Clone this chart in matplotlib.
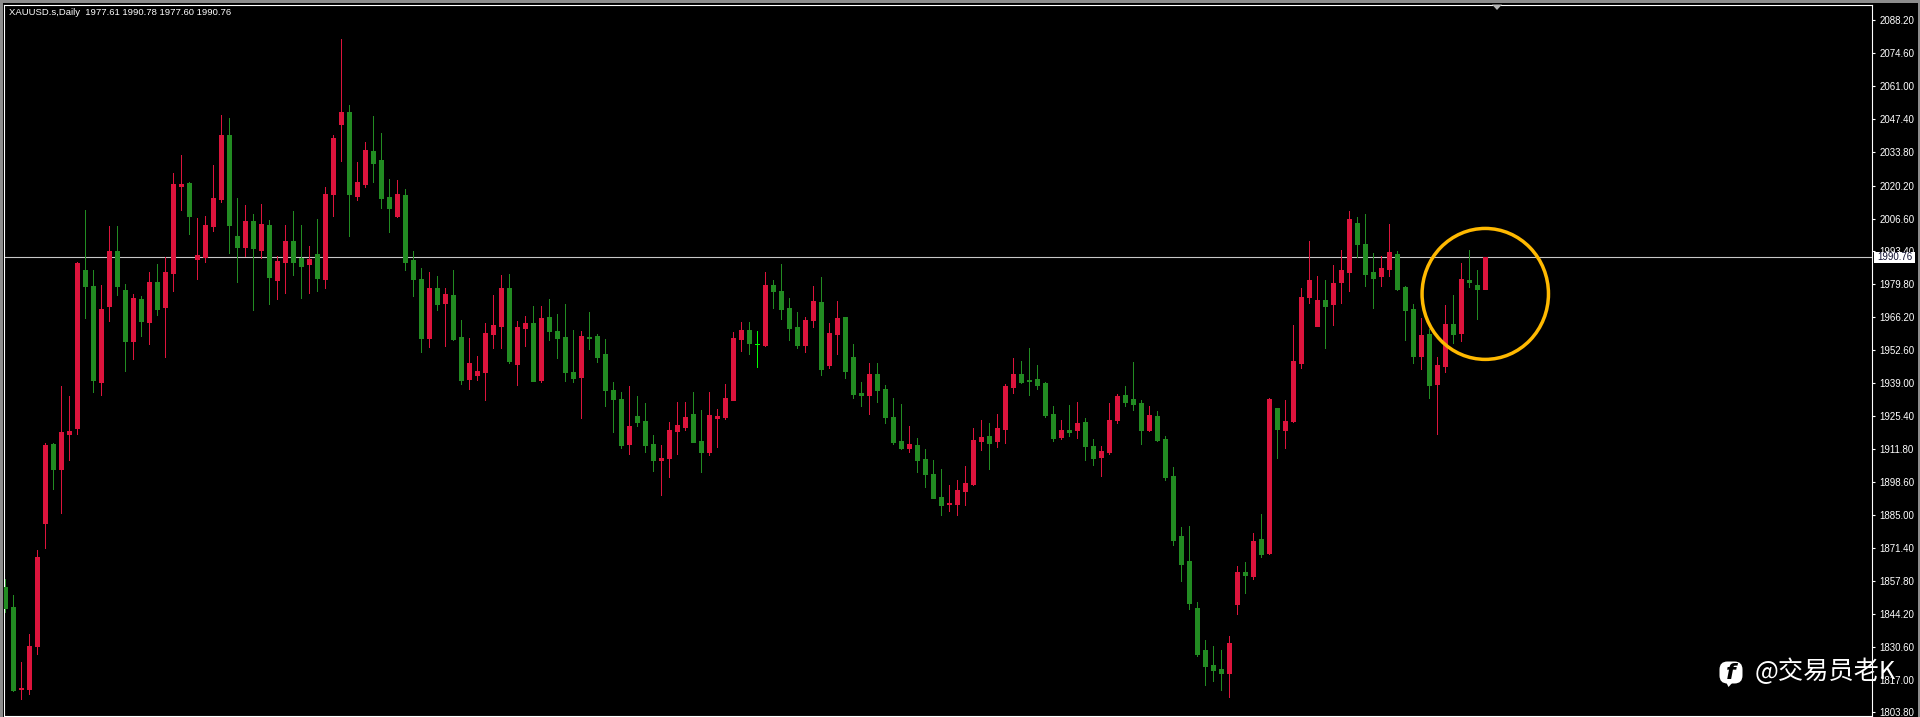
import numpy as np
import matplotlib
matplotlib.use('Agg')
import matplotlib.pyplot as plt
from matplotlib.patches import Ellipse, FancyBboxPatch, Polygon, Rectangle
from matplotlib.transforms import IdentityTransform, blended_transform_factory

plt.rcParams['font.family'] = ['Liberation Sans', 'DejaVu Sans']

symbol_text = 'XAUUSD.s,Daily  1977.61 1990.78 1977.60 1990.76'
watermark = '@交易员老K'

opens = [
    1855.1, 1847.0, 1813.2, 1813.2, 1831.2, 1881.4, 1913.9, 1903.6, 1918.0, 1920.8,
    1985.5, 1978.9, 1939.4, 1970.6, 1993.2, 1977.2, 1956.2, 1973.8, 1964.0, 1980.8,
    1970.2, 1984.1, 2020.2, 2021.2, 1990.0, 1990.9, 2003.5, 2014.6, 2040.9, 1999.4,
    1994.9, 2005.6, 1993.9, 2004.2, 1981.3, 1988.7, 1997.3, 1990.3, 1987.9, 1992.0,
    1981.7, 2016.6, 2045.4, 2050.3, 2015.8, 2020.7, 2034.3, 2030.6, 2015.4, 2007.6,
    2016.2, 1989.5, 1981.7, 1957.4, 1978.0, 1971.8, 1975.1, 1957.9, 1940.6, 1942.2,
    1943.5, 1959.1, 1962.4, 1978.0, 1946.8, 1961.6, 1963.6, 1940.2, 1966.1, 1960.3,
    1957.9, 1943.5, 1941.4, 1957.9, 1958.3, 1950.9, 1936.1, 1932.4, 1913.9, 1925.4,
    1923.4, 1913.9, 1907.3, 1908.1, 1919.2, 1920.9, 1926.2, 1915.1, 1910.6, 1924.6,
    1925.0, 1932.0, 1957.0, 1960.7, 1955.2, 1954.6, 1979.2, 1976.7, 1969.8, 1962.0,
    1954.6, 1964.8, 1972.2, 1946.3, 1959.1, 1966.1, 1949.6, 1934.8, 1934.0, 1942.7,
    1936.5, 1925.0, 1915.1, 1912.3, 1913.5, 1907.7, 1901.6, 1892.1, 1889.2, 1889.2,
    1894.6, 1897.5, 1915.1, 1917.2, 1915.1, 1920.1, 1937.3, 1942.7, 1940.2, 1940.6,
    1939.0, 1926.2, 1916.8, 1919.6, 1919.6, 1922.9, 1913.1, 1908.6, 1910.6, 1923.8,
    1934.0, 1932.4, 1930.7, 1919.6, 1925.4, 1916.0, 1900.8, 1876.1, 1865.8, 1846.5,
    1829.3, 1823.1, 1821.5, 1819.8, 1848.2, 1861.3, 1859.7, 1874.9, 1869.1, 1928.7,
    1919.6, 1923.3, 1947.2, 1974.3, 1962.4, 1973.1, 1971.4, 1980.5, 1984.6, 2004.7,
    1996.1, 1984.6, 1982.9, 1985.8, 1992.0, 1978.4, 1969.4, 1950.0, 1959.1, 1938.5,
    1945.9, 1963.2, 1959.5, 1981.3, 1979.2, 1977.61,
]
closes = [
    1846.5, 1812.8, 1813.6, 1830.9, 1867.5, 1913.5, 1903.6, 1918.8, 1919.2, 1988.3,
    1978.9, 1940.2, 1969.7, 1993.5, 1978.9, 1956.2, 1974.2, 1964.4, 1980.4, 1969.3,
    1984.5, 2020.8, 2020.8, 2007.6, 1991.5, 2003.9, 2015.0, 2040.9, 2004.2, 1994.9,
    2005.6, 1994.5, 2004.6, 1982.8, 1989.4, 1997.3, 1989.0, 1987.3, 1990.0, 1982.1,
    2016.6, 2039.6, 2050.3, 2016.6, 2021.5, 2034.7, 2029.3, 2015.0, 2010.9, 2016.6,
    1988.7, 1981.7, 1957.4, 1978.0, 1971.4, 1975.5, 1957.0, 1940.2, 1947.2, 1943.9,
    1959.5, 1962.8, 1978.0, 1948.0, 1962.0, 1963.6, 1939.8, 1965.7, 1960.3, 1957.4,
    1943.5, 1941.0, 1958.3, 1957.4, 1949.6, 1936.1, 1932.4, 1913.5, 1921.3, 1922.9,
    1913.5, 1907.3, 1908.2, 1919.6, 1921.7, 1925.0, 1914.7, 1910.6, 1925.8, 1925.4,
    1932.8, 1957.4, 1960.7, 1955.4, 1955.2, 1979.2, 1976.7, 1969.4, 1961.5, 1954.6,
    1964.8, 1972.6, 1944.7, 1959.5, 1965.7, 1943.9, 1934.4, 1934.0, 1942.7, 1936.1,
    1925.0, 1914.7, 1912.3, 1913.9, 1907.3, 1901.6, 1891.7, 1888.8, 1889.7, 1895.0,
    1897.9, 1915.5, 1916.8, 1914.3, 1920.5, 1937.7, 1942.7, 1939.4, 1939.8, 1938.1,
    1925.8, 1916.4, 1919.6, 1918.8, 1922.5, 1913.1, 1908.1, 1911.0, 1923.8, 1933.6,
    1931.2, 1930.3, 1919.6, 1925.8, 1915.5, 1900.3, 1874.5, 1864.6, 1848.6, 1827.6,
    1822.7, 1821.1, 1819.8, 1832.1, 1861.3, 1860.1, 1874.0, 1868.7, 1932.4, 1920.1,
    1923.3, 1948.0, 1974.3, 1981.3, 1973.1, 1970.6, 1980.0, 1985.4, 2006.3, 1996.1,
    1983.7, 1982.1, 1986.2, 1992.8, 1977.6, 1968.9, 1950.0, 1958.7, 1938.1, 1946.3,
    1963.2, 1959.1, 1981.7, 1980.5, 1977.6, 1990.76,
]
highs = [
    1858.5, 1851.9, 1824.3, 1835.9, 1870.3, 1914.6, 1914.3, 1937.7, 1933.6, 1988.7,
    2010.1, 1985.5, 1979.3, 2003.5, 2003.5, 1979.6, 1975.5, 1974.8, 1984.5, 1987.9,
    1990.9, 2025.3, 2032.6, 2021.5, 2006.7, 2007.6, 2028.5, 2049.1, 2047.8, 2015.3,
    2012.1, 2008.4, 2012.5, 2005.9, 1991.1, 2004.2, 2009.7, 2003.9, 1995.2, 2006.3,
    2019.8, 2040.9, 2080.3, 2053.2, 2029.7, 2038.0, 2048.6, 2041.7, 2022.8, 2022.4,
    2018.7, 1993.2, 1986.2, 1984.6, 1982.9, 1978.0, 1985.4, 1964.8, 1957.4, 1950.1,
    1963.6, 1975.1, 1983.3, 1983.7, 1964.4, 1966.5, 1970.6, 1970.6, 1973.5, 1967.3,
    1971.4, 1960.7, 1960.3, 1968.1, 1959.1, 1957.0, 1939.6, 1935.3, 1937.7, 1933.6,
    1930.7, 1917.6, 1913.5, 1922.9, 1931.2, 1931.2, 1935.3, 1927.9, 1935.3, 1928.3,
    1938.5, 1959.9, 1964.0, 1964.0, 1960.3, 1984.5, 1981.3, 1987.8, 1973.9, 1968.1,
    1966.1, 1978.8, 1982.5, 1963.6, 1972.6, 1966.1, 1955.0, 1939.4, 1947.2, 1947.2,
    1938.1, 1932.8, 1930.3, 1921.3, 1916.4, 1911.8, 1907.3, 1903.6, 1897.0, 1899.1,
    1904.9, 1920.5, 1923.8, 1922.5, 1926.2, 1938.5, 1949.2, 1948.0, 1953.3, 1946.3,
    1939.4, 1929.5, 1923.8, 1929.9, 1931.2, 1924.6, 1916.0, 1913.1, 1930.7, 1934.4,
    1937.7, 1947.6, 1932.0, 1929.5, 1927.5, 1917.2, 1904.4, 1879.8, 1880.2, 1849.0,
    1833.4, 1830.9, 1829.3, 1835.0, 1863.8, 1865.4, 1877.3, 1885.1, 1932.8, 1928.7,
    1932.0, 1962.8, 1978.0, 1997.3, 1982.9, 1981.3, 1987.4, 1993.6, 2009.6, 2007.2,
    2008.4, 1992.4, 1991.1, 2004.3, 1993.2, 1978.8, 1971.4, 1965.7, 1961.1, 1949.6,
    1971.0, 1975.1, 1988.3, 1993.6, 1985.4, 1990.78,
]
lows = [
    1845.1, 1812.5, 1809.1, 1811.5, 1827.7, 1871.3, 1895.5, 1885.5, 1907.3, 1918.0,
    1965.7, 1935.3, 1934.0, 1964.4, 1975.1, 1943.9, 1948.8, 1958.6, 1955.0, 1966.9,
    1949.6, 1976.8, 2010.1, 2000.5, 1981.7, 1988.7, 2001.4, 2013.6, 1992.4, 1980.8,
    1991.1, 1968.9, 1990.3, 1971.4, 1973.8, 1975.9, 1983.4, 1974.2, 1975.9, 1976.8,
    1978.3, 2007.6, 2030.2, 1999.3, 2014.1, 2019.5, 2021.5, 2010.9, 2001.0, 2007.2,
    1985.4, 1974.7, 1951.7, 1953.8, 1969.0, 1954.2, 1956.6, 1938.6, 1936.5, 1940.2,
    1932.0, 1953.3, 1953.3, 1947.2, 1938.1, 1954.2, 1939.8, 1939.4, 1956.6, 1949.2,
    1939.8, 1939.4, 1924.6, 1952.9, 1947.6, 1929.5, 1918.8, 1912.3, 1909.8, 1921.3,
    1910.6, 1902.8, 1893.0, 1900.3, 1909.8, 1919.6, 1914.7, 1902.4, 1909.4, 1912.7,
    1924.2, 1932.0, 1952.1, 1950.9, 1945.5, 1954.2, 1969.8, 1965.2, 1956.6, 1953.3,
    1951.7, 1962.0, 1942.2, 1945.1, 1950.9, 1941.0, 1932.8, 1929.5, 1926.2, 1931.2,
    1922.5, 1913.9, 1911.8, 1910.6, 1902.4, 1896.2, 1891.7, 1884.7, 1886.4, 1884.7,
    1888.8, 1897.0, 1911.4, 1903.6, 1912.7, 1914.3, 1934.8, 1939.0, 1934.0, 1936.5,
    1925.0, 1915.1, 1915.9, 1917.2, 1916.4, 1907.3, 1905.3, 1900.8, 1909.8, 1922.5,
    1929.5, 1927.9, 1913.9, 1919.2, 1915.1, 1899.1, 1872.4, 1857.6, 1846.1, 1826.8,
    1814.9, 1816.5, 1812.8, 1810.0, 1844.1, 1852.7, 1858.4, 1867.5, 1868.7, 1908.1,
    1912.3, 1922.9, 1945.1, 1971.8, 1962.4, 1953.3, 1962.8, 1971.8, 1976.8, 1990.7,
    1978.8, 1969.8, 1978.8, 1982.9, 1977.2, 1956.6, 1947.2, 1944.7, 1932.8, 1918.0,
    1943.5, 1955.4, 1956.2, 1978.4, 1965.3, 1977.60,
]
tick_labels = [
    '2088.20', '2074.60', '2061.00', '2047.40', '2033.80', '2020.20', '2006.60',
    '1993.40', '1979.80', '1966.20', '1952.60', '1939.00', '1925.40', '1911.80',
    '1898.60', '1885.00', '1871.40', '1857.80', '1844.20', '1830.60', '1817.00',
    '1803.80',
]

UP = '#DC143C'
DOWN = '#228B22'
DOJI = '#00FF00'
W, H = 1920, 717

o = np.array(opens)
c = np.array(closes)
x = np.arange(len(o))
colors = [UP if b > a else DOWN if b < a else DOJI for a, b in zip(o, c)]

fig = plt.figure(figsize=(W / 100, H / 100), dpi=100, facecolor='black')
# chart window edges, in pixels from the top left
ax = fig.add_axes([4 / W, 1 - 715.5 / H, 1868 / W, 711 / H], facecolor='black')
ax.set_xlim(-0.16, 233.34)
ax.set_ylim(1802.5, 2094.6)

ax.axhline(closes[-1], color='#C8C8C8', lw=0.8, zorder=1)
ax.vlines(x, lows, highs, colors=colors, lw=0.72, antialiased=False, zorder=2)
ax.bar(x, np.abs(c - o), bottom=np.minimum(o, c), width=0.5, color=colors,
       edgecolor=colors, linewidth=0.72, antialiased=False, zorder=3)

# the circle drawn round the last candles
ax.add_patch(Ellipse((185, 1975.7), 15.8, 53.8, fill=False, edgecolor='#FFB900',
                     lw=2.5, zorder=4))

for s in ax.spines.values():
    s.set_color('white')
    s.set_linewidth(0.8)
ax.set_xticks([])
ax.yaxis.tick_right()
ax.set_yticks([float(t) for t in tick_labels], labels=tick_labels)
ax.tick_params(axis='y', colors='white', length=2, width=0.8, pad=3.5, labelsize=7)

# last price tag
tr = blended_transform_factory(ax.transAxes, ax.transData)
ax.add_patch(Rectangle((1.0012, closes[-1] - 2.3), 0.0219, 4.6, transform=tr, facecolor='white',
                       edgecolor='none', clip_on=False, zorder=5))
ax.text(1.0125, closes[-1], '%.2f' % closes[-1], transform=tr, color='#101030', fontsize=7,
        va='center', ha='center', clip_on=False, zorder=6)

fig.text(9 / W, 1 - 12.5 / H, symbol_text, color='white', fontsize=6.8, va='center')

# window border strips and the small shift marker
idt = IdentityTransform()
for rect in [(0, H - 2.5, W, 2.5), (0, 0, 3, H), (W - 2, 0, 2, H)]:
    fig.add_artist(Rectangle(rect[:2], rect[2], rect[3], transform=idt, color='#8C8C8C', lw=0))
fig.add_artist(Polygon([(1492, H - 4.5), (1502, H - 4.5), (1497, H - 10)], transform=idt,
                       color='#B4B4B4', lw=0))

# watermark
fig.add_artist(FancyBboxPatch((1724, H - 679), 14, 13, boxstyle='round,pad=4.5,rounding_size=8',
                              transform=idt, facecolor='white', edgecolor='none', zorder=7))
fig.add_artist(Polygon([(1726, H - 682), (1733, H - 682), (1728.5, H - 687)], transform=idt,
                       color='white', lw=0, zorder=7))
fig.text(1731 / W, 1 - 673 / H, 'f', color='black', fontsize=16, fontweight='bold', style='italic',
         family='DejaVu Sans', ha='center', va='center', zorder=8)
fig.text(1755 / W, 1 - 672 / H, watermark, color='white', fontsize=18.2, va='center', zorder=8,
         family=['Noto Sans CJK SC', 'DejaVu Sans'])

fig.savefig('out.png', dpi=100, facecolor='black')
